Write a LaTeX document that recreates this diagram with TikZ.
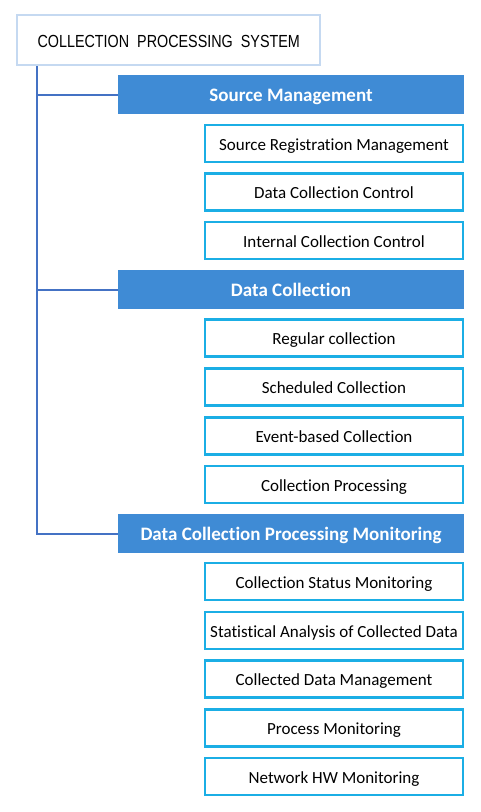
\documentclass[tikz,border=0pt]{standalone}
\usepackage{fontspec}
\setmainfont[Ligatures={NoCommon,NoRare}]{Carlito}
\newfontfamily\titlefont[FakeStretch=0.82]{Liberation Sans}
\definecolor{hdrblue}{HTML}{3F8BD5}
\definecolor{boxcyan}{HTML}{1BAEE5}
\definecolor{titleedge}{HTML}{C5D9F1}
\definecolor{linkblue}{HTML}{4472C4}
\begin{document}
\begin{tikzpicture}[x=1pt,y=-1pt,
  titlebox/.style={draw=titleedge,line width=2.2pt,fill=white,minimum width=303pt,minimum height=50pt,inner sep=0pt},
  hdr/.style={fill=hdrblue,text=white,font=\fontsize{19}{21}\selectfont\bfseries,minimum width=346pt,minimum height=39pt,inner sep=0pt,text height=14.5pt,text depth=0pt},
  sub/.style={draw=boxcyan,line width=2.6pt,fill=white,font=\fontsize{17}{19}\selectfont,minimum width=258pt,minimum height=37pt,inner sep=0pt,text height=13pt,text depth=0pt},
  link/.style={draw=linkblue,line width=2pt}]
\useasboundingbox (0,0) rectangle (480,812);
\node[titlebox] (top) at (168.5,40) {};
\node[anchor=west,font=\titlefont\fontsize{17.5}{19}\selectfont] (toptext) at (34,41) {COLLECTION\ \ PROCESSING\ \ SYSTEM};
\node[hdr] (h1) at (291,94.5) {Source Management};
\node[hdr] (h2) at (291,289.5) {Data Collection};
\node[hdr] (h3) at (291,533.5) {Data Collection Processing Monitoring};
\node[sub] (s1) at (334,143.5) {Source Registration Management};
\node[sub] (s2) at (334,192) {Data Collection Control};
\node[sub] (s3) at (334,240.5) {Internal Collection Control};
\node[sub] (s4) at (334,338) {Regular collection};
\node[sub] (s5) at (334,387) {Scheduled Collection};
\node[sub] (s6) at (334,436) {Event-based Collection};
\node[sub] (s7) at (334,484.5) {Collection Processing};
\node[sub] (s8) at (334,581.5) {Collection Status Monitoring};
\node[sub] (s9) at (334,630.5) {Statistical Analysis of Collected Data};
\node[sub] (s10) at (334,679) {Collected Data Management};
\node[sub] (s11) at (334,728) {Process Monitoring};
\node[sub] (s12) at (334,776.5) {Network HW Monitoring};
\coordinate (trunk) at (37,66);
\draw[link] (trunk) |- (h3.west);
\draw[link] (trunk |- h1.west) -- (h1.west);
\draw[link] (trunk |- h2.west) -- (h2.west);
\end{tikzpicture}
\end{document}
